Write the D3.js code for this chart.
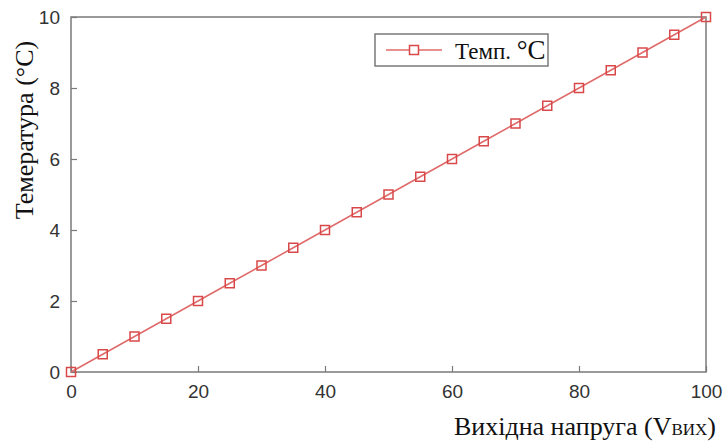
<!DOCTYPE html>
<html>
<head>
<meta charset="utf-8">
<script src="https://cdn.jsdelivr.net/npm/d3@7"></script>
<style>
  body { margin: 0; background: #fff; }
  svg { display: block; }
</style>
</head>
<body>
<div id="chart"></div>
<script>
// output voltage (x) and temperature (y)
const voltage = [0, 5, 10, 15, 20, 25, 30, 35, 40, 45, 50, 55, 60, 65, 70, 75, 80, 85, 90, 95, 100];
const temp = [0, 0.5, 1, 1.5, 2, 2.5, 3, 3.5, 4, 4.5, 5, 5.5, 6, 6.5, 7, 7.5, 8, 8.5, 9, 9.5, 10];
const xTicks = [0, 20, 40, 60, 80, 100];
const yTicks = [0, 2, 4, 6, 8, 10];

const width = 723, height = 445;
const margin = {top: 17, right: 17, bottom: 73, left: 71};

const svg = d3.select("#chart").append("svg")
    .attr("width", width)
    .attr("height", height);

const x = d3.scaleLinear().domain([0, 100]).range([margin.left, width - margin.right]);
const y = d3.scaleLinear().domain([0, 10]).range([height - margin.bottom, margin.top]);

const axisColor = "#7a7a7a";
const tickFont = "'Liberation Sans', Arial, sans-serif";
const serif = "'Liberation Serif', 'Times New Roman', serif";

// box around the plot
svg.append("rect")
    .attr("x", x(0)).attr("y", y(10))
    .attr("width", x(100) - x(0)).attr("height", y(0) - y(10))
    .attr("fill", "none").attr("stroke", axisColor).attr("stroke-width", 1.5);

const xAxis = svg.append("g")
    .attr("transform", `translate(0,${y(0)})`)
    .call(d3.axisBottom(x).tickValues(xTicks).tickSizeInner(-6).tickSizeOuter(0).tickPadding(13));
const yAxis = svg.append("g")
    .attr("transform", `translate(${x(0)},0)`)
    .call(d3.axisLeft(y).tickValues(yTicks).tickSizeInner(-6).tickSizeOuter(0).tickPadding(11));

[xAxis, yAxis].forEach(g => {
    g.select(".domain").remove();
    g.selectAll(".tick line").attr("stroke", axisColor).attr("stroke-width", 1.2);
    g.selectAll(".tick text")
        .attr("fill", "#333")
        .style("font-family", tickFont)
        .style("font-size", "19px");
});

// line + square markers
const lineColor = "#e06a6a";
svg.append("path")
    .datum(voltage.map((v, i) => [v, temp[i]]))
    .attr("fill", "none")
    .attr("stroke", lineColor)
    .attr("stroke-width", 1.5)
    .attr("d", d3.line().x(d => x(d[0])).y(d => y(d[1])));

const ms = 9;
svg.append("g").selectAll("rect")
    .data(voltage.map((v, i) => [v, temp[i]]))
    .join("rect")
    .attr("x", d => x(d[0]) - ms / 2)
    .attr("y", d => y(d[1]) - ms / 2)
    .attr("width", ms).attr("height", ms)
    .attr("fill", "none")
    .attr("stroke", "#d94848")
    .attr("stroke-width", 1.5);

// axis labels
const xl = svg.append("text")
    .attr("x", 716).attr("y", 435)
    .attr("text-anchor", "end")
    .style("font-family", serif)
    .style("font-size", "26px")
    .attr("fill", "#111");
xl.append("tspan").text("Вихідна напруга (V");
xl.append("tspan").style("font-size", "17px").text("ВИХ");
xl.append("tspan").text(")");

svg.append("text")
    .attr("transform", `translate(33,${130}) rotate(-90)`)
    .attr("text-anchor", "middle")
    .style("font-family", serif)
    .style("font-size", "26px")
    .attr("fill", "#111")
    .text("Темература (°C)");

// legend
const lg = svg.append("g").attr("transform", "translate(375,34)");
lg.append("rect")
    .attr("width", 173).attr("height", 32)
    .attr("fill", "#fff").attr("stroke", axisColor).attr("stroke-width", 1.5);
lg.append("line")
    .attr("x1", 11).attr("x2", 67).attr("y1", 16).attr("y2", 16)
    .attr("stroke", lineColor).attr("stroke-width", 1.5);
lg.append("rect")
    .attr("x", 39 - ms / 2).attr("y", 16 - ms / 2)
    .attr("width", ms).attr("height", ms)
    .attr("fill", "#fff").attr("stroke", "#d94848").attr("stroke-width", 1.5);
const lt = lg.append("text")
    .attr("x", 80).attr("y", 25)
    .style("font-family", serif)
    .style("font-size", "23px")
    .attr("fill", "#111");
lt.append("tspan").text("Темп. ");
lt.append("tspan").style("font-size", "27px").text("°C");
</script>
</body>
</html>
